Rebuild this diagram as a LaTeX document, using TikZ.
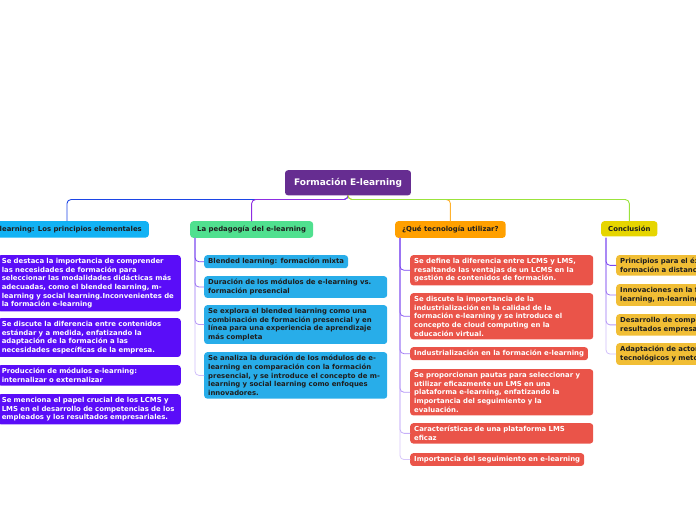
\documentclass[tikz,border=0pt]{standalone}
\usepackage{fontspec}
\setmainfont{DejaVu Sans}
\definecolor{rootc}{HTML}{662D91}
\definecolor{cyanc}{HTML}{12B2F4}
\definecolor{greenc}{HTML}{50E08F}
\definecolor{orangec}{HTML}{FFA000}
\definecolor{yellowc}{HTML}{E6D500}
\definecolor{violetk}{HTML}{5A0DF8}
\definecolor{bluek}{HTML}{28ADE9}
\definecolor{redk}{HTML}{EA5449}
\definecolor{goldk}{HTML}{F1BE35}
\definecolor{linkblue}{HTML}{1C45E6}
\definecolor{linkpurple}{HTML}{8E2DE2}
\definecolor{linkorange}{HTML}{FFB22E}
\definecolor{linkgreen}{HTML}{9BE33C}
\definecolor{linkkid}{HTML}{7A45F0}
\definecolor{textdark}{HTML}{1E1E1E}
\begin{document}
\begin{tikzpicture}[x=1pt,y=-1pt,line cap=round,line join=round,
  box/.style={rounded corners=3pt,anchor=north west,align=left,
    font=\fontsize{6.9}{8.7}\selectfont\bfseries,inner xsep=4pt,inner ysep=3pt},
  wide/.style={text width=175pt},
  branch/.style={box,inner xsep=7pt,inner ysep=4.8pt,text=textdark},
  kidlink/.style={rounded corners=4pt,line width=0.8pt}]
  \useasboundingbox (0,0) rectangle (696,520);
  \clip (0,0) rectangle (696,520);

  % central topic
  \node[box,anchor=north,fill=rootc,text=white,font=\fontsize{9}{10}\selectfont\bfseries,
    inner xsep=9pt,inner ysep=8pt] (root) at (348,170) {Formación E-learning};

  % main branches
  \node[branch,anchor=north east,fill=cyanc] (b1) at (149,221) {E-learning: Los principios elementales};
  \node[branch,fill=greenc] (b2) at (190,221) {La pedagogía del e-learning};
  \node[branch,fill=orangec] (b3) at (395,221) {¿Qué tecnología utilizar?};
  \node[branch,fill=yellowc] (b4) at (601,221) {Conclusión};

  \draw[linkblue,line width=0.9pt,rounded corners=4pt] (root.south) -- ++(0,4) -| (b1.north);
  \draw[linkpurple,line width=0.9pt,rounded corners=4pt] (root.south) -- ++(0,4) -| (b2.north);
  \draw[linkorange,line width=0.9pt,rounded corners=4pt] (root.south) -- ++(0,4) -| (b3.north);
  \draw[linkgreen,line width=0.9pt,rounded corners=4pt] (root.south) -- ++(0,4) -| (b4.north);

  % E-learning: Los principios elementales
  \node[box,wide,anchor=north east,fill=violetk,text=white] (k11) at (181,255) { Se destaca la importancia de comprender\\las necesidades de formación para\\seleccionar las modalidades didácticas más\\adecuadas, como el blended learning, m-\\learning y social learning.Inconvenientes de\\la formación e-learning};
  \node[box,wide,anchor=north east,fill=violetk,text=white] (k12) at (181,318) {Se discute la diferencia entre contenidos\\estándar y a medida, enfatizando la\\adaptación de la formación a las\\necesidades específicas de la empresa.};
  \node[box,wide,anchor=north east,fill=violetk,text=white] (k13) at (181,365) {Producción de módulos e-learning:\\internalizar o externalizar};
  \node[box,wide,anchor=north east,fill=violetk,text=white] (k14) at (181,394) {Se menciona el papel crucial de los LCMS y\\LMS en el desarrollo de competencias de los\\empleados y los resultados empresariales.};

  % La pedagogia del e-learning
  \coordinate (s2) at (195,238);
  \node[box,fill=bluek,text=textdark] (k21) at (204,255) {Blended learning: formación mixta};
  \node[box,wide,fill=bluek,text=textdark] (k22) at (204,276) {Duración de los módulos de e-learning vs.\\formación presencial};
  \node[box,wide,fill=bluek,text=textdark] (k23) at (204,305) {Se explora el blended learning como una\\combinación de formación presencial y en\\línea para una experiencia de aprendizaje\\más completa};
  \node[box,wide,fill=bluek,text=textdark] (k24) at (204,352) {Se analiza la duración de los módulos de e-\\learning en comparación con la formación\\presencial, y se introduce el concepto de m-\\learning y social learning como enfoques\\innovadores.};
  \draw[kidlink,linkkid!35] (s2) |- (k24.west);
  \draw[kidlink,linkkid!55] (s2) |- (k23.west);
  \draw[kidlink,linkkid!75] (s2) |- (k22.west);
  \draw[kidlink,linkkid] (s2) |- (k21.west);

  % Que tecnologia utilizar
  \coordinate (s3) at (400,238);
  \node[box,wide,fill=redk,text=white] (k31) at (410,255) {Se define la diferencia entre LCMS y LMS,\\resaltando las ventajas de un LCMS en la\\gestión de contenidos de formación.};
  \node[box,wide,fill=redk,text=white] (k32) at (410,293) {Se discute la importancia de la\\industrialización en la calidad de la\\formación e-learning y se introduce el\\concepto de cloud computing en la\\educación virtual.};
  \node[box,fill=redk,text=white] (k33) at (410,347) {Industrialización en la formación e-learning};
  \node[box,wide,fill=redk,text=white] (k34) at (410,369) {Se proporcionan pautas para seleccionar y\\utilizar eficazmente un LMS en una\\plataforma e-learning, enfatizando la\\importancia del seguimiento y la\\evaluación.};
  \node[box,wide,fill=redk,text=white] (k35) at (410,423) {Características de una plataforma LMS\\eficaz};
  \node[box,fill=redk,text=white] (k36) at (410,453) {Importancia del seguimiento en e-learning};
  \draw[kidlink,linkkid!30] (s3) |- (k36.west);
  \draw[kidlink,linkkid!42] (s3) |- (k35.west);
  \draw[kidlink,linkkid!55] (s3) |- (k34.west);
  \draw[kidlink,linkkid!70] (s3) |- (k33.west);
  \draw[kidlink,linkkid!85] (s3) |- (k32.west);
  \draw[kidlink,linkkid] (s3) |- (k31.west);

  % Conclusion
  \coordinate (s4) at (606,238);
  \node[box,wide,fill=goldk,text=textdark] (k41) at (616,255) {Principios para el éxito de la\\formación a distancia};
  \node[box,wide,fill=goldk,text=textdark] (k42) at (616,284) {Innovaciones en la formación: blended\\learning, m-learning y social learning};
  \node[box,wide,fill=goldk,text=textdark] (k43) at (616,314) {Desarrollo de competencias y\\resultados empresariales};
  \node[box,wide,fill=goldk,text=textdark] (k44) at (616,343) {Adaptación de actores\\tecnológicos y metodológicos};
  \draw[kidlink,linkkid!35] (s4) |- (k44.west);
  \draw[kidlink,linkkid!55] (s4) |- (k43.west);
  \draw[kidlink,linkkid!75] (s4) |- (k42.west);
  \draw[kidlink,linkkid] (s4) |- (k41.west);
\end{tikzpicture}
\end{document}
